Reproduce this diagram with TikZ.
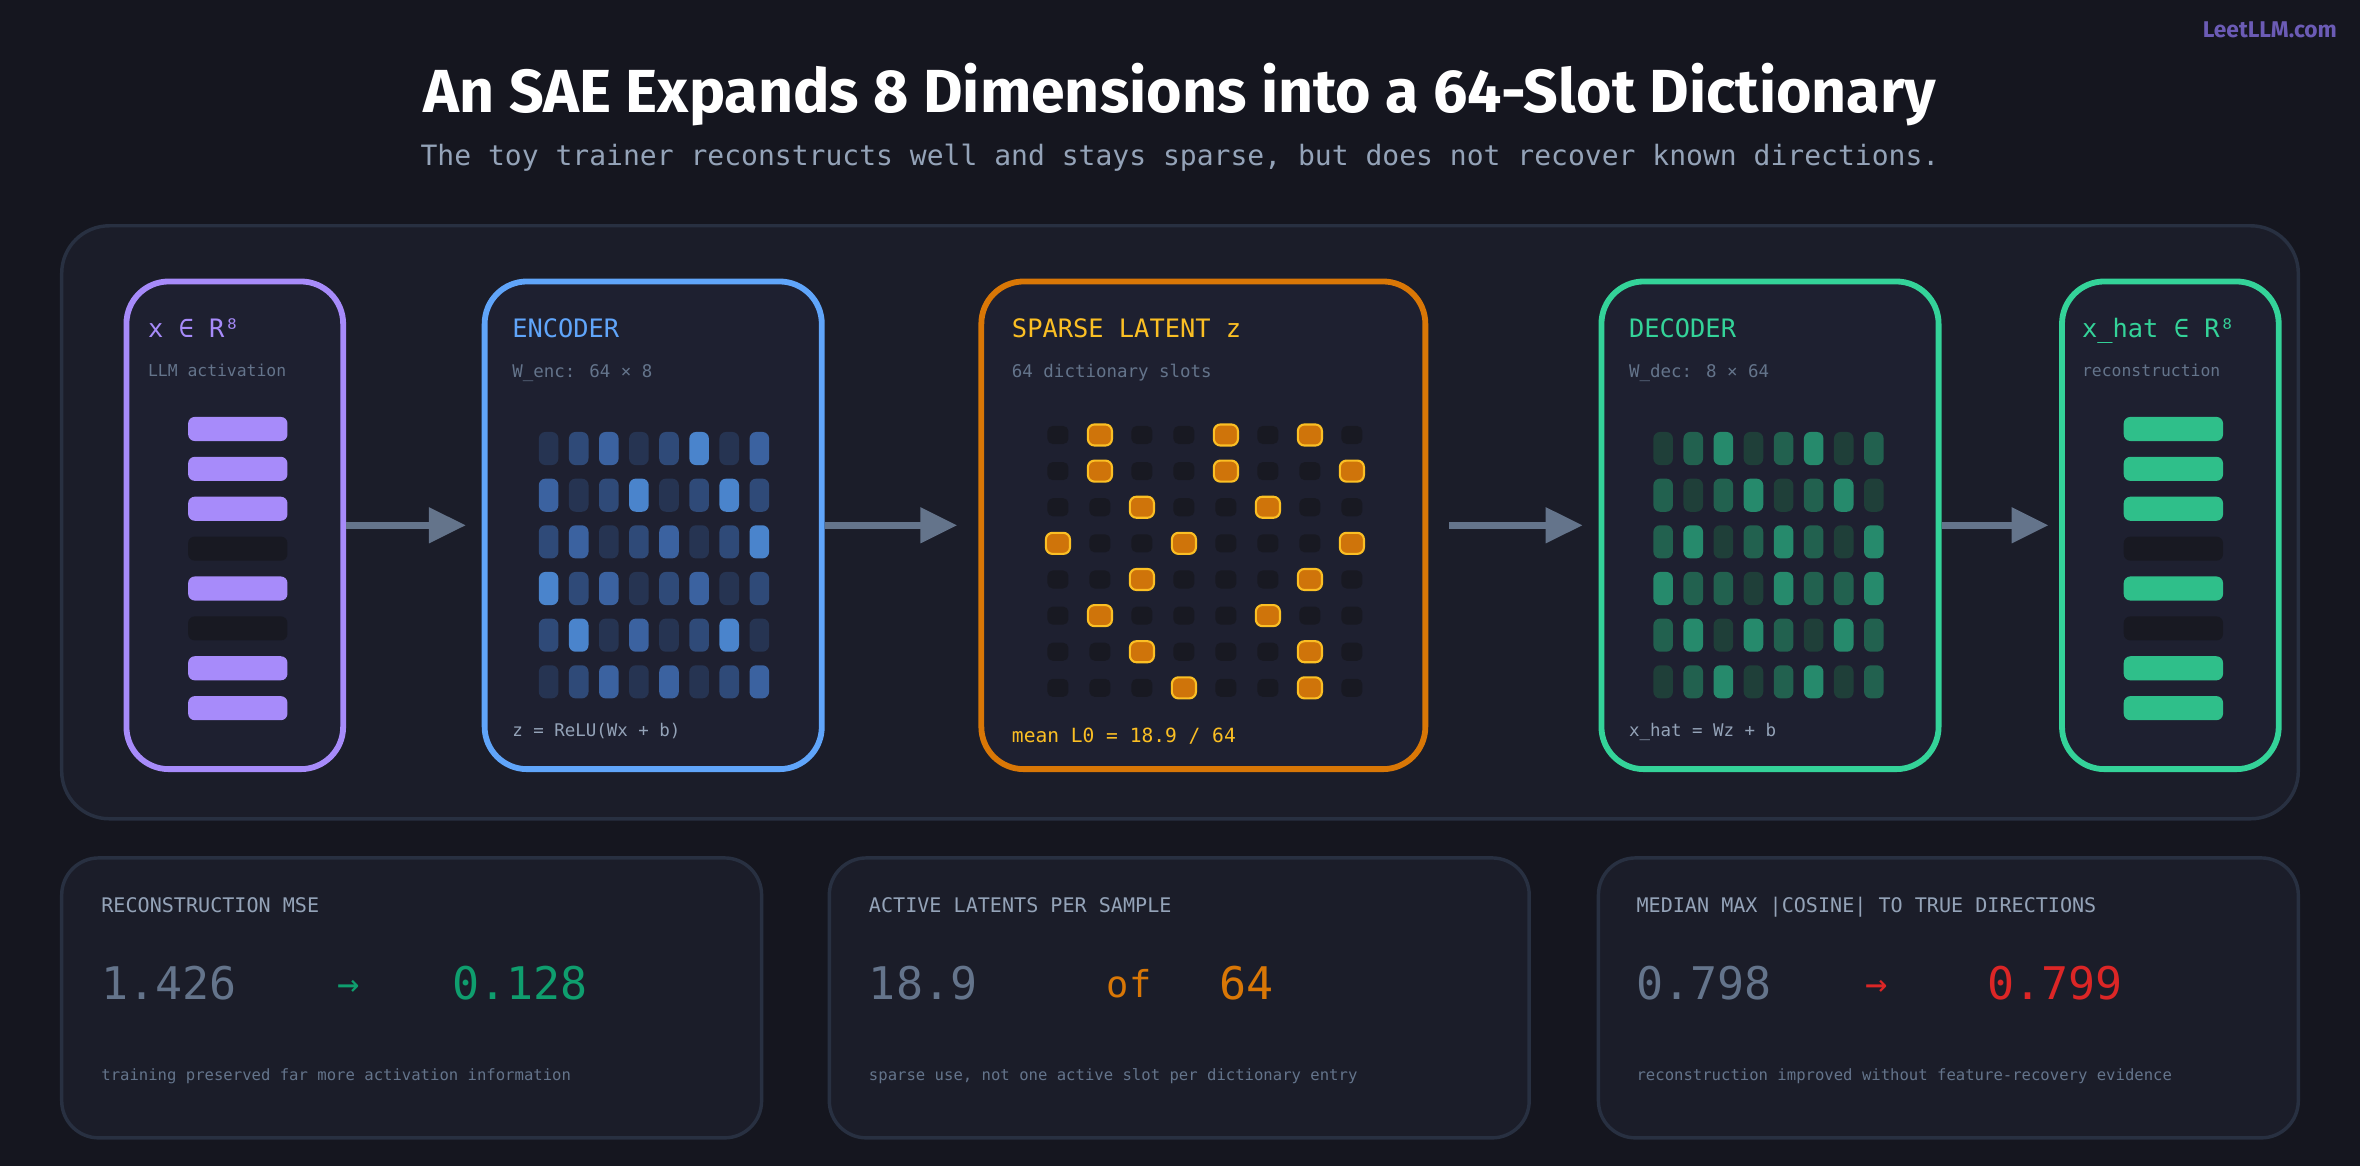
\documentclass[tikz,border=0pt]{standalone}
\usepackage{fontspec}
\setmainfont{DejaVu Sans Mono}
\newfontfamily\titlefont{Fira Sans}
\usetikzlibrary{arrows.meta,positioning}

\definecolor{bgc}{HTML}{15161F}
\definecolor{panelc}{HTML}{1B1D29}
\definecolor{panelline}{HTML}{283041}
\definecolor{boxc}{HTML}{1E2030}
\definecolor{mutedc}{HTML}{64748B}
\definecolor{subc}{HTML}{94A3B8}
\definecolor{purc}{HTML}{A78BFA}
\definecolor{bluc}{HTML}{60A5FA}
\definecolor{orac}{HTML}{D97706}
\definecolor{orfill}{HTML}{CF740A}
\definecolor{oredge}{HTML}{FBBF24}
\definecolor{grnc}{HTML}{34D399}
\definecolor{grnbar}{HTML}{2FBF8A}
\definecolor{grnnum}{HTML}{0F9E6E}
\definecolor{redc}{HTML}{DC2626}
\definecolor{offc}{HTML}{181922}
\definecolor{logoc}{HTML}{6B5BB5}
% encoder / decoder intensity levels
\definecolor{enc0}{HTML}{263452}
\definecolor{enc1}{HTML}{2F4A78}
\definecolor{enc2}{HTML}{3B62A0}
\definecolor{enc3}{HTML}{4A84CC}
\definecolor{dec0}{HTML}{1F3F39}
\definecolor{dec1}{HTML}{22614F}
\definecolor{dec2}{HTML}{268A6C}
\definecolor{dec3}{HTML}{2DAF82}

\begin{document}
\begin{tikzpicture}[x=0.02cm,y=-0.02cm,
  stage/.style={draw, line width=2.2pt, rounded corners=16, fill=boxc,
    minimum height=324*0.02cm},
  card/.style={draw=panelline, line width=1.3pt, rounded corners=14, fill=panelc,
    minimum width=465*0.02cm, minimum height=186*0.02cm},
  head/.style={anchor=base west, inner sep=0pt, font=\fontsize{9.6}{11}\selectfont},
  note/.style={anchor=base west, inner sep=0pt, text=mutedc, font=\fontsize{6.6}{8}\selectfont},
  ctitle/.style={anchor=base west, inner sep=0pt, text=subc, font=\fontsize{7.6}{9}\selectfont},
  big/.style={anchor=base west, inner sep=0pt, font=\fontsize{17}{20}\selectfont},
  foot/.style={anchor=base west, inner sep=0pt, text=mutedc, font=\fontsize{5.9}{7}\selectfont},
  flow/.style={draw=mutedc, line width=2.6pt, -{Triangle[length=14pt,width=13pt]}},
  bar/.style={rounded corners=2.5, minimum width=66*0.02cm, minimum height=16*0.02cm, inner sep=0pt},
  cell/.style={rounded corners=2.5, minimum width=13*0.02cm, minimum height=22*0.02cm, inner sep=0pt},
  off/.style={fill=offc, rounded corners=2, minimum width=14*0.02cm, minimum height=12*0.02cm, inner sep=0pt},
  on/.style={fill=orfill, draw=oredge, line width=0.8pt, rounded corners=2.5, minimum width=16*0.02cm, minimum height=14*0.02cm, inner sep=0pt}
]
  \fill[bgc] (0,0) rectangle (1568,775);
  \useasboundingbox (0,0) rectangle (1568,775);

  % header
  \node[text=logoc, font=\titlefont\bfseries\fontsize{8.6}{10}\selectfont, anchor=base east, inner sep=0pt] (logo) at (1553,25) {LeetLLM.com};
  \node[text=white, font=\titlefont\bfseries\fontsize{23}{27}\selectfont] (title) at (784,63) {An SAE Expands 8 Dimensions into a 64-Slot Dictionary};
  \node[text=subc, font=\fontsize{10.6}{13}\selectfont] (subtitle) at (784,105) {The toy trainer reconstructs well and stays sparse, but does not recover known directions.};

  % pipeline panel
  \draw[panelline, line width=1.3pt, fill=panelc, rounded corners=18] (41,150) rectangle (1527,544);

  \node[stage, draw=purc, minimum width=144*0.02cm] (inp) at (156,349) {};
  \node[stage, draw=bluc, minimum width=224*0.02cm] (enc) at (434,349) {};
  \node[stage, draw=orac, minimum width=295*0.02cm] (lat) at (799.5,349) {};
  \node[stage, draw=grnc, minimum width=224*0.02cm] (dec) at (1176,349) {};
  \node[stage, draw=grnc, minimum width=144*0.02cm] (out) at (1442,349) {};

  % stage labels
  \node[head, text=purc] at (98,224) {x ∈ R⁸};
  \node[note, font=\fontsize{6.2}{8}\selectfont] at (98,250) {LLM activation};
  \node[head, text=bluc] at (340,224) {ENCODER};
  \node[note] at (340,251) {W\_enc: 64 × 8};
  \node[note, text=subc] at (340,489) {z = ReLU(Wx + b)};
  \node[head, text=oredge] at (672,224) {SPARSE LATENT z};
  \node[note] at (672,251) {64 dictionary slots};
  \node[note, text=oredge, font=\fontsize{7.4}{9}\selectfont] at (672,493) {mean L0 = 18.9 / 64};
  \node[head, text=grnc] at (1082,224) {DECODER};
  \node[note] at (1082,251) {W\_dec: 8 × 64};
  \node[note, text=subc] at (1082,489) {x\_hat = Wz + b};
  \node[head, text=grnc] at (1383,224) {x\_hat ∈ R⁸};
  \node[note, font=\fontsize{6.2}{8}\selectfont] at (1383,250) {reconstruction};

  % input and output vectors
  \foreach \v [count=\i] in {1,1,1,0,1,0,1,1}{
    \ifnum\v=1
      \node[bar, fill=purc] (xin\i) at (158,258.5+26.5*\i) {};
      \node[bar, fill=grnbar] (xout\i) at (1444,258.5+26.5*\i) {};
    \else
      \node[bar, fill=offc] (xin\i) at (158,258.5+26.5*\i) {};
      \node[bar, fill=offc] (xout\i) at (1444,258.5+26.5*\i) {};
    \fi
  }

  % encoder weights
  \foreach \row [count=\j] in {{0,1,2,0,1,3,0,2},{2,0,1,3,0,1,3,1},{1,2,0,1,2,0,1,3},
                               {3,1,2,0,1,2,0,1},{1,3,0,2,0,1,3,0},{0,1,2,0,2,0,1,2}}{
    \foreach \v [count=\i] in \row
      \node[cell, fill=enc\v] (we\i-\j) at (344.5+20*\i,267+31*\j) {};
  }
  % decoder weights
  \foreach \row [count=\j] in {{0,1,2,0,1,2,0,1},{1,0,1,2,0,1,2,0},{1,2,0,1,2,1,0,2},
                               {2,1,1,0,2,1,1,2},{1,2,0,2,1,0,2,1},{0,1,2,0,1,2,0,1}}{
    \foreach \v [count=\i] in \row
      \node[cell, fill=dec\v] (wd\i-\j) at (1085+20*\i,267+31*\j) {};
  }

  % sparse latent grid
  \foreach \row [count=\j] in {{0,1,0,0,1,0,1,0},{0,1,0,0,1,0,0,1},{0,0,1,0,0,1,0,0},{1,0,0,1,0,0,0,1},
                               {0,0,1,0,0,0,1,0},{0,1,0,0,0,1,0,0},{0,0,1,0,0,0,1,0},{0,0,0,1,0,0,1,0}}{
    \foreach \v [count=\i] in \row{
      \ifnum\v=1
        \node[on] (z\i-\j) at (675+27.9*\i,265+24*\j) {};
      \else
        \node[off] (z\i-\j) at (675+27.9*\i,265+24*\j) {};
      \fi
    }
  }

  % flow arrows
  \draw[flow, shorten >=6] (inp) -- (enc);
  \draw[flow, shorten >=8] (enc) -- (lat);
  \draw[flow, shorten <=8, shorten >=6] (lat) -- (dec);
  \draw[flow, shorten >=4] (dec) -- (out);

  % metric cards
  \node[card] (mse) at (273.5,663) {};
  \node[card] (act) at (783.5,663) {};
  \node[card] (cos) at (1294.5,663) {};

  \node[ctitle] at (67,606) {RECONSTRUCTION MSE};
  \node[big, text=mutedc] at (67,664) {1.426};
  \node[big, text=grnnum, font=\fontsize{14}{16}\selectfont] at (224,662) {→};
  \node[big, text=grnnum] at (300,664) {0.128};
  \node[foot] at (67,718) {training preserved far more activation information};

  \node[ctitle] at (577,606) {ACTIVE LATENTS PER SAMPLE};
  \node[big, text=mutedc] at (577,664) {18.9};
  \node[big, text=orac, font=\fontsize{14}{16}\selectfont] at (735,663) {of};
  \node[big, text=orac] at (810,664) {64};
  \node[foot] at (577,718) {sparse use, not one active slot per dictionary entry};

  \node[ctitle] at (1087,606) {MEDIAN MAX |COSINE| TO TRUE DIRECTIONS};
  \node[big, text=mutedc] at (1087,664) {0.798};
  \node[big, text=redc, font=\fontsize{14}{16}\selectfont] at (1239,662) {→};
  \node[big, text=redc] at (1320,664) {0.799};
  \node[foot] at (1087,718) {reconstruction improved without feature-recovery evidence};
\end{tikzpicture}
\end{document}
